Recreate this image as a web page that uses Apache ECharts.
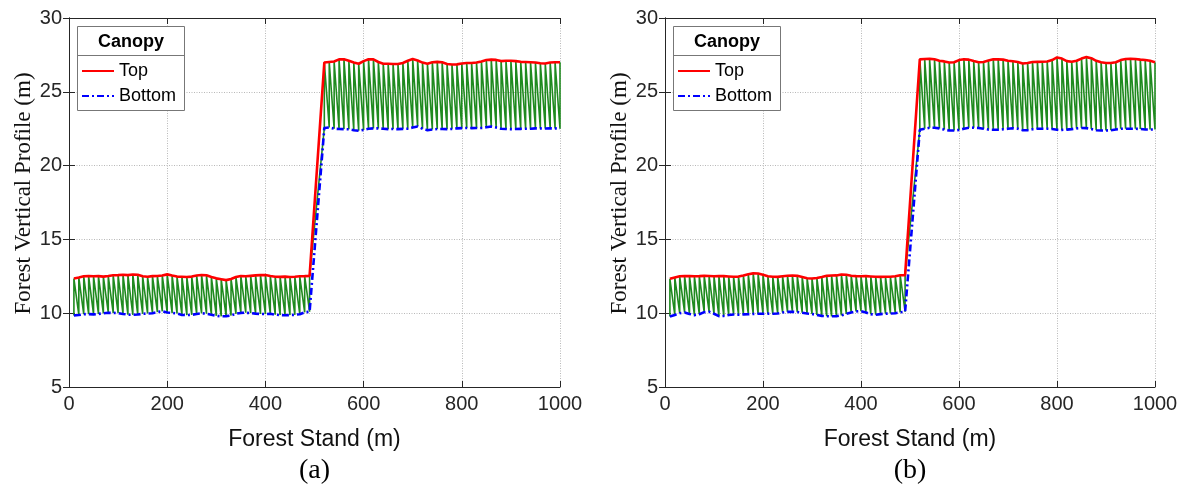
<!DOCTYPE html>
<html><head><meta charset="utf-8">
<script src="https://cdn.jsdelivr.net/npm/echarts@6/dist/echarts.min.js"></script>
<style>html,body{margin:0;padding:0;background:#fff}#c{width:1185px;height:490px}</style>
</head><body><div id="c"></div>
<script>
// Tree positions along the stand (m)
const standX = [10,20,30,40,50,60,70,80,90,100,110,120,130,140,150,160,170,180,190,200,
  210,220,230,240,250,260,270,280,290,300,310,320,330,340,350,360,370,380,390,400,
  410,420,430,440,450,460,470,480,490,
  520,530,540,550,560,570,580,590,600,610,620,630,640,650,660,670,680,690,700,710,
  720,730,740,750,760,770,780,790,800,810,820,830,840,850,860,870,880,890,900,910,
  920,930,940,950,960,970,980,990,1000];

// Panel (a)
const topA = [12.35,12.42,12.50,12.52,12.50,12.51,12.48,12.52,12.57,12.58,12.60,12.58,12.62,12.60,12.50,12.47,12.51,12.52,12.55,12.63,
  12.55,12.48,12.47,12.45,12.48,12.55,12.59,12.57,12.45,12.36,12.30,12.24,12.32,12.45,12.52,12.50,12.53,12.56,12.58,12.59,
  12.52,12.47,12.46,12.48,12.45,12.47,12.50,12.51,12.53,
  26.98,27.02,27.05,27.20,27.20,27.10,26.98,26.90,27.08,27.20,27.20,27.02,26.90,26.90,26.88,26.88,26.95,27.10,27.22,27.12,
  26.98,26.90,27.00,27.03,27.00,26.88,26.85,26.86,26.92,26.95,26.95,26.98,27.05,27.15,27.18,27.16,27.08,27.10,27.10,27.08,
  27.03,27.02,27.00,26.98,26.93,26.92,26.98,27.00,27.00];
const bottomA = [9.85,9.88,9.93,9.94,9.92,9.95,9.99,10.03,10.02,10.01,9.95,9.90,9.89,9.91,9.96,9.98,10.00,10.08,10.13,10.05,
  10.02,9.98,9.88,9.87,9.89,9.95,9.99,9.97,9.90,9.82,9.79,9.80,9.84,9.96,10.02,10.03,10.01,9.97,9.95,9.94,
  9.96,9.90,9.87,9.86,9.87,9.89,9.93,10.06,10.10,
  22.55,22.58,22.50,22.48,22.47,22.46,22.40,22.36,22.42,22.50,22.52,22.52,22.50,22.47,22.48,22.47,22.49,22.50,22.58,22.65,
  22.50,22.40,22.45,22.48,22.48,22.47,22.49,22.52,22.54,22.55,22.54,22.55,22.55,22.60,22.65,22.58,22.50,22.48,22.47,22.48,
  22.49,22.50,22.50,22.52,22.52,22.51,22.52,22.52,22.50];

// Panel (b)
const topB = [12.33,12.42,12.50,12.51,12.52,12.50,12.51,12.53,12.52,12.50,12.52,12.51,12.49,12.47,12.48,12.55,12.64,12.70,12.69,12.60,
  12.50,12.47,12.46,12.50,12.54,12.55,12.53,12.45,12.37,12.35,12.38,12.45,12.53,12.55,12.56,12.62,12.60,12.54,12.51,12.50,
  12.51,12.49,12.47,12.46,12.47,12.47,12.50,12.57,12.58,
  27.20,27.22,27.23,27.20,27.10,27.06,26.98,27.00,27.15,27.20,27.18,27.08,27.00,27.02,27.12,27.20,27.20,27.18,27.10,27.07,
  27.02,26.92,26.95,27.02,27.03,27.04,27.05,27.15,27.33,27.25,27.08,27.03,27.10,27.25,27.35,27.28,27.10,27.00,26.95,26.95,
  27.00,27.15,27.22,27.23,27.22,27.18,27.15,27.10,27.00];
const bottomB = [9.78,9.88,10.00,10.05,9.95,9.87,9.93,10.07,10.10,9.96,9.80,9.82,9.88,9.91,9.90,9.92,9.93,9.95,9.96,9.96,
  9.97,9.96,9.98,10.05,10.09,10.10,10.08,10.03,9.98,9.95,9.88,9.82,9.80,9.79,9.80,9.85,9.95,10.05,10.12,10.14,
  10.05,9.93,9.90,9.94,9.97,9.98,10.00,10.06,10.10,
  22.43,22.50,22.56,22.56,22.52,22.44,22.38,22.38,22.42,22.50,22.56,22.57,22.55,22.50,22.44,22.43,22.43,22.46,22.50,22.53,
  22.50,22.40,22.40,22.46,22.50,22.50,22.50,22.48,22.43,22.42,22.44,22.47,22.52,22.55,22.54,22.48,22.40,22.38,22.38,22.40,
  22.45,22.50,22.50,22.50,22.50,22.48,22.45,22.45,22.45];

const xRange = [0, 1000], xStep = 200;
const yRange = [5, 30], yStep = 5;
const xTitle = 'Forest Stand (m)';
const yTitle = 'Forest Vertical Profile (m)';
const legendTitle = 'Canopy';
const seriesNames = ['Top', 'Bottom'];
const panelLabels = ['(a)', '(b)'];

const panels = [
  {label: panelLabels[0], tops: topA, bots: bottomA, left: 69, width: 491},
  {label: panelLabels[1], tops: topB, bots: bottomB, left: 665, width: 490}
];
const gridTop = 18, gridH = 369;
const axisColor = '#262626';

function pairs(vals) { return standX.map((x, i) => [x, vals[i]]); }
function zig(tops, bots) {
  const out = [];
  standX.forEach((x, i) => { out.push([x, bots[i]]); out.push([x, tops[i]]); });
  return out;
}

const grid = [], xAxis = [], yAxis = [], series = [], legend = [], graphic = [];
panels.forEach((p, k) => {
  grid.push({left: p.left, top: gridTop, width: p.width, height: gridH});
  const ax = k * 2;
  xAxis.push({
    gridIndex: k, type: 'value', min: xRange[0], max: xRange[1], interval: xStep, position: 'bottom',
    name: xTitle, nameLocation: 'middle', nameGap: 41,
    nameTextStyle: {fontFamily: 'Liberation Sans', fontSize: 23, color: '#111'},
    axisLine: {lineStyle: {color: axisColor, width: 1}},
    axisTick: {inside: true, length: 6, lineStyle: {color: axisColor}},
    axisLabel: {fontFamily: 'Liberation Sans', fontSize: 20, color: axisColor, margin: 7,
      formatter: v => String(v)},
    splitLine: {show: true, lineStyle: {color: '#b8b8b8', width: 1, type: [1, 1.5]}}
  });
  xAxis.push({
    gridIndex: k, type: 'value', min: xRange[0], max: xRange[1], interval: xStep, position: 'top',
    axisLine: {lineStyle: {color: axisColor, width: 1}},
    axisTick: {inside: true, length: 6, lineStyle: {color: axisColor}},
    axisLabel: {show: false}, splitLine: {show: false}
  });
  yAxis.push({
    gridIndex: k, type: 'value', min: yRange[0], max: yRange[1], interval: yStep, position: 'left',
    name: yTitle, nameLocation: 'middle', nameGap: 28, nameRotate: 90,
    nameTextStyle: {fontFamily: 'Liberation Serif', fontSize: 23, color: '#111', padding: [0, 0, 0, 18]},
    axisLine: {show: true, lineStyle: {color: axisColor, width: 1}},
    axisTick: {show: true, inside: true, length: 6, lineStyle: {color: axisColor}},
    axisLabel: {fontFamily: 'Liberation Sans', fontSize: 20, color: axisColor, margin: 7},
    splitLine: {show: true, lineStyle: {color: '#b8b8b8', width: 1, type: [1, 1.5]}}
  });
  yAxis.push({
    gridIndex: k, type: 'value', min: yRange[0], max: yRange[1], interval: yStep, position: 'right',
    axisLine: {show: true, lineStyle: {color: axisColor, width: 1}},
    axisTick: {show: true, inside: true, length: 6, lineStyle: {color: axisColor}},
    axisLabel: {show: false}, splitLine: {show: false}
  });
  series.push({
    type: 'line', xAxisIndex: ax, yAxisIndex: ax, data: zig(p.tops, p.bots), symbol: 'none',
    lineStyle: {color: '#1f8a1f', width: 1.6}, silent: true, animation: false, z: 2
  });
  series.push({
    name: seriesNames[0], type: 'line', xAxisIndex: ax, yAxisIndex: ax, data: pairs(p.tops), symbol: 'none',
    lineStyle: {color: '#ff0000', width: 2.6}, itemStyle: {color: '#ff0000'}, animation: false, z: 3
  });
  series.push({
    name: seriesNames[1], type: 'line', xAxisIndex: ax, yAxisIndex: ax, data: pairs(p.bots), symbol: 'none',
    lineStyle: {color: '#0000ff', width: 2.6, type: [7, 3, 2, 3]}, itemStyle: {color: '#0000ff'}, animation: false, z: 4
  });
  const bx = p.left + 8;
  legend.push({
    left: bx + 4, top: 60, orient: 'vertical', data: seriesNames, padding: 0,
    itemWidth: 32, itemHeight: 14, itemGap: 3, selectedMode: false,
    itemStyle: {opacity: 0},
    textStyle: {fontFamily: 'Liberation Sans', fontSize: 18, color: '#000', lineHeight: 22}
  });
  graphic.push({type: 'rect', z: 3, shape: {x: bx + 0.5, y: 26.5, width: 107, height: 84},
    style: {fill: '#fff', stroke: '#777', lineWidth: 1}});
  graphic.push({type: 'line', z: 3, shape: {x1: bx, y1: 55.5, x2: bx + 107, y2: 55.5},
    style: {stroke: '#777', lineWidth: 1}});
  graphic.push({type: 'text', z: 4, x: bx + 54, y: 42,
    style: {text: legendTitle, font: 'bold 18px "Liberation Sans"', fill: '#000', align: 'center', verticalAlign: 'middle'}});
  graphic.push({type: 'text', z: 4, x: p.left + p.width / 2, y: 471,
    style: {text: p.label, font: '28px "Liberation Serif"', fill: '#000', align: 'center', verticalAlign: 'middle'}});
});

const chart = echarts.init(document.getElementById('c'), null, {renderer: 'canvas'});
chart.setOption({animation: false, backgroundColor: '#fff', grid, xAxis, yAxis, series, legend, graphic});
</script></body></html>
